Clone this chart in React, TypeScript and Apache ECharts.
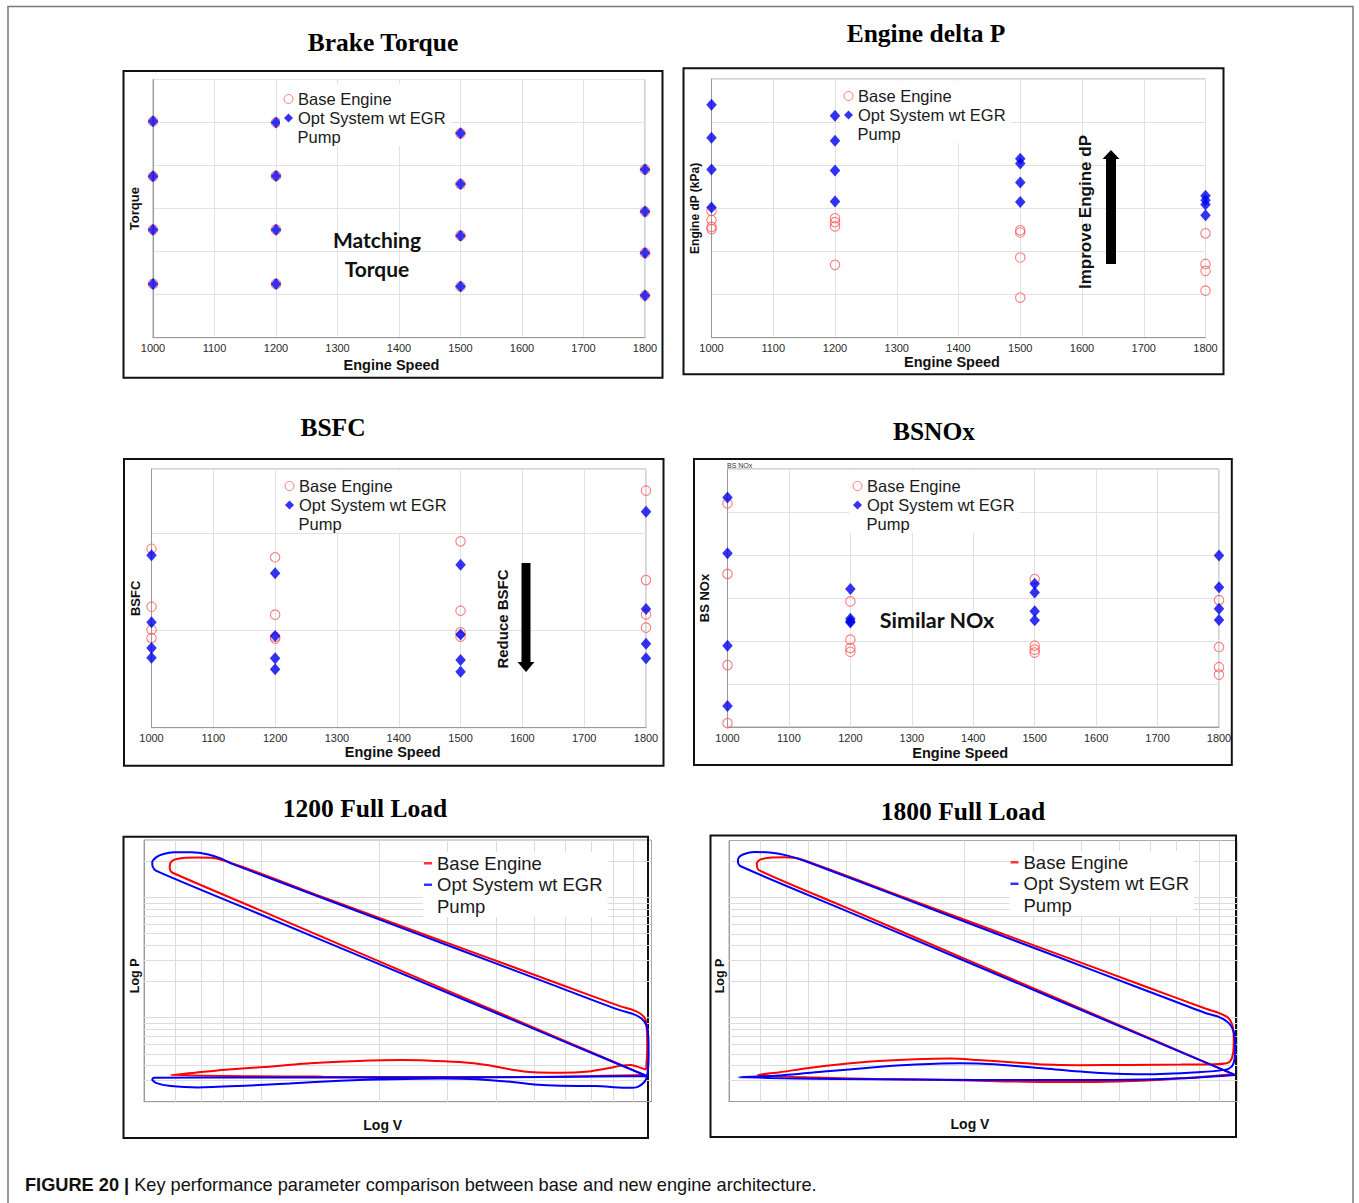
import React, { useEffect, useRef } from 'react';
import * as echarts from 'echarts';

// ---------------- DATA ----------------
const speeds = [1000, 1200, 1500, 1800];

// values per speed (4 operating points each), in plot grid units
const torqueBase = [[5.03, 3.75, 2.51, 1.25], [5.0, 3.76, 2.51, 1.25], [4.75, 3.57, 2.37, 1.19], [3.91, 2.93, 1.97, 0.98]];
const torqueOpt = [[5.03, 3.75, 2.51, 1.25], [5.0, 3.76, 2.51, 1.25], [4.75, 3.57, 2.37, 1.19], [3.91, 2.93, 1.97, 0.98]];

const dpBase = [[2.94, 2.73, 2.57, 2.52], [2.77, 2.68, 2.58, 1.69], [2.49, 2.44, 1.86, 0.93], [2.42, 1.71, 1.55, 1.09]];
const dpOpt = [[5.4, 4.64, 3.9, 3.02], [5.15, 4.57, 3.88, 3.16], [4.15, 4.04, 3.6, 3.15], [3.29, 3.19, 3.09, 2.84]];

const bsfcBase = [[1.845, 1.247, 1.01, 0.925], [1.757, 1.165, 0.935, 0.918], [1.921, 1.206, 0.983, 0.938], [2.443, 1.522, 1.168, 1.031]];
const bsfcOpt = [[1.777, 1.087, 0.822, 0.722], [1.592, 0.945, 0.715, 0.603], [1.68, 0.962, 0.698, 0.577], [2.227, 1.223, 0.866, 0.715]];

const noxBase = [[5.2, 3.56, 1.44, 0.09], [2.92, 2.03, 1.84, 1.75], [3.44, 1.89, 1.8, 1.73], [2.95, 1.86, 1.39, 1.22]];
const noxOpt = [[5.34, 4.04, 1.89, 0.49], [3.21, 2.52, 2.46, 2.43], [3.33, 3.13, 2.69, 2.48], [3.99, 3.25, 2.75, 2.49]];

// log-log PV loops: [V, P]
const pv1200Base = [
  [9.6, 0.333], [5.87, 0.66], [1.99, 2.969], [0.967, 8.104], [0.589, 16.17],
  [0.582, 17.57], [0.584, 19.34], [0.598, 20.62], [0.629, 21.29], [0.688, 21.42], [0.776, 20.88],
  [1.444, 9.97], [3.22, 3.842], [5.87, 1.878], [8.26, 1.252],
  [8.95, 1.159], [9.41, 1.067], [9.66, 0.957], [9.73, 0.79], [9.75, 0.574], [9.71, 0.417], [9.66, 0.371],
  [9.31, 0.386], [8.86, 0.404], [8.43, 0.401], [7.78, 0.381], [6.9, 0.357], [5.87, 0.348], [5.0, 0.351], [4.35, 0.371],
  [3.78, 0.404], [3.22, 0.427], [2.64, 0.441], [2.29, 0.444], [1.765, 0.436], [1.333, 0.417], [1.007, 0.388],
  [0.792, 0.367], [0.675, 0.348], [0.586, 0.333],
  [1.444, 0.323], [4.81, 0.321], [9.6, 0.333],
];
const pv1200Opt = [
  [9.73, 0.327], [5.87, 0.648], [1.99, 2.813], [0.967, 7.485], [0.536, 16.69],
  [0.526, 18.14], [0.525, 19.59], [0.536, 21.42], [0.558, 22.84], [0.598, 23.73], [0.661, 23.73], [0.731, 22.69],
  [0.792, 20.88], [0.841, 18.97],
  [1.444, 9.79], [3.22, 3.671], [5.87, 1.759], [8.26, 1.159],
  [8.95, 1.074], [9.41, 0.988], [9.69, 0.869], [9.81, 0.695], [9.83, 0.473], [9.79, 0.367], [9.73, 0.323],
  [9.6, 0.293], [9.22, 0.266], [8.77, 0.261], [8.26, 0.263], [7.18, 0.27], [5.87, 0.271], [5.0, 0.278], [4.35, 0.293],
  [3.56, 0.308], [2.91, 0.312], [2.16, 0.308], [1.596, 0.299], [1.18, 0.284], [0.875, 0.27], [0.688, 0.263],
  [0.586, 0.27], [0.536, 0.287], [0.525, 0.306], [0.53, 0.316],
  [0.967, 0.318], [3.22, 0.318], [9.73, 0.327],
];
const pv1800Base = [
  [9.79, 0.337], [5.87, 0.69], [1.99, 3.14], [0.967, 8.628], [0.596, 17.02],
  [0.589, 19.34], [0.601, 20.75], [0.635, 21.56], [0.695, 21.7], [0.761, 21.02],
  [1.444, 9.723], [3.22, 3.711], [5.87, 1.803], [8.26, 1.197],
  [8.95, 1.1], [9.46, 1.007], [9.73, 0.869], [9.81, 0.652], [9.77, 0.505], [9.64, 0.439], [9.41, 0.417],
  [8.77, 0.409], [7.18, 0.406], [5.31, 0.404], [3.93, 0.401], [3.22, 0.406], [2.64, 0.425], [2.16, 0.444],
  [1.837, 0.456], [1.503, 0.45], [1.18, 0.433], [0.967, 0.409], [0.792, 0.379], [0.675, 0.351], [0.592, 0.333],
  [0.792, 0.318], [1.18, 0.308], [1.95, 0.301], [3.22, 0.291], [4.35, 0.291], [5.87, 0.299], [7.94, 0.318], [9.79, 0.337],
];
const pv1800Opt = [
  [9.89, 0.333], [5.87, 0.681], [1.99, 3.012], [0.967, 8.115], [0.534, 18.38],
  [0.527, 19.97], [0.53, 21.7], [0.547, 23.13], [0.58, 24.03], [0.635, 23.88], [0.702, 22.55], [0.792, 19.97],
  [1.444, 9.496], [3.22, 3.528], [5.87, 1.678], [8.26, 1.1],
  [8.95, 1.02], [9.5, 0.909], [9.81, 0.765], [9.89, 0.574], [9.85, 0.444], [9.69, 0.391],
  [9.31, 0.367], [7.94, 0.351], [5.87, 0.337], [4.35, 0.348], [3.22, 0.376], [2.38, 0.409], [1.95, 0.417],
  [1.503, 0.406], [1.18, 0.386], [0.875, 0.355], [0.648, 0.327], [0.53, 0.318],
  [0.967, 0.308], [2.16, 0.3025], [4.81, 0.3025], [7.18, 0.312], [9.89, 0.333],
];

// log grid lines
const logVGrid = [0.6, 0.7, 0.8, 0.9, 1, 2, 3, 4, 5, 6, 7, 8, 9];
const logPGrid = [0.3, 0.4, 0.5, 0.6, 0.7, 0.8, 0.9, 1, 2, 3, 4, 5, 6, 7, 8, 9, 10, 20];

const BASE = 'Base Engine';
const OPT = 'Opt System wt EGR';

// ---------------- LAYOUT / STYLE ----------------
const FONT = "'Liberation Sans', Arial, Helvetica, sans-serif";
const SERIF = "'Liberation Serif', 'Times New Roman', serif";
const ANNO = "Lato, 'Open Sans', sans-serif";

const grids = [
  { left: 153, top: 79.5, width: 492, height: 258.2 },
  { left: 711.5, top: 79, width: 494, height: 258.7 },
  { left: 151.5, top: 469, width: 494.5, height: 258.7 },
  { left: 727.5, top: 469, width: 491.5, height: 258 },
  { left: 144, top: 840, width: 507.5, height: 261.7 },
  { left: 729, top: 840.5, width: 508, height: 261 },
];

const scatterPanels = [
  { base: torqueBase, opt: torqueOpt, yMax: 6, yName: 'Torque', yNameSize: 13, yNameGap: 12, xNameGap: 19.4, xNamePad: 15, legend: [280, 84] },
  { base: dpBase, opt: dpOpt, yMax: 6, yName: 'Engine dP (kPa)', yNameSize: 12, yNameGap: 11, xNameGap: 16, xNamePad: 13, legend: [840, 81] },
  { base: bsfcBase, opt: bsfcOpt, yMax: 2.667, yName: 'BSFC', yNameSize: 13, yNameGap: 9.3, xNameGap: 16.3, xNamePad: 12, legend: [281, 471] },
  { base: noxBase, opt: noxOpt, yMax: 6, yName: 'BS NOx', yNameSize: 13, yNameGap: 17, xNameGap: 18.5, xNamePad: 26, legend: [849, 471] },
];

const pvPanels = [
  { base: pv1200Base, opt: pv1200Opt, xNameGap: 16.3, xNamePad: 30, legend: [423, 852] },
  { base: pv1800Base, opt: pv1800Opt, xNameGap: 15.5, xNamePad: 26, legend: [1009.5, 851] },
];

const titles: [string, number, number][] = [
  ['Brake Torque', 383, 42.5],
  ['Engine delta P', 926, 33],
  ['BSFC', 333, 427],
  ['BSNOx', 934, 431],
  ['1200 Full Load', 365, 808],
  ['1800 Full Load', 963, 811],
];

const frames = [
  [123.5, 71, 539, 306.7],
  [683.5, 68.3, 540, 306],
  [124, 459, 539.5, 306.7],
  [694, 459, 537.8, 306],
  [123.5, 836.7, 524.5, 301.3],
  [710.5, 835.5, 525.5, 301.5],
];

function pairs(xs: number[], vals: number[][]) {
  const out: number[][] = [];
  xs.forEach((x, i) => vals[i].forEach((v) => out.push([x, v])));
  return out;
}

function txt(text: string, x: number, y: number, font: string, extra: any = {}, rotation = 0) {
  const align = extra.align || 'center';
  return {
    type: 'text',
    x,
    y,
    rotation,
    z: 10,
    silent: true,
    style: {
      text,
      x: 0,
      y: 0,
      font,
      fill: extra.fill || '#000',
      textAlign: align,
      align,
      textVerticalAlign: 'middle',
      verticalAlign: 'middle',
      lineHeight: extra.lineHeight,
      rich: extra.rich,
    },
  };
}

function buildOption() {
  const xAxis: any[] = [];
  const yAxis: any[] = [];
  const series: any[] = [];
  const legend: any[] = [];
  const graphic: any[] = [];

  const gridLine = { show: true, lineStyle: { color: '#e2e2e2', width: 1, type: 'solid' } };
  const axisLine = { show: true, lineStyle: { color: '#9a9a9a', width: 1 } };

  scatterPanels.forEach((p, i) => {
    xAxis.push({
      type: 'value', gridIndex: i, min: 1000, max: 1800, interval: 100,
      name: 'Engine Speed', nameLocation: 'middle', nameGap: p.xNameGap,
      nameTextStyle: { fontFamily: FONT, fontWeight: 'bold', fontSize: 14.5, color: '#111', padding: [0, p.xNamePad, 0, 0] },
      axisLine, axisTick: { show: false },
      axisLabel: { show: true, margin: 5, fontFamily: FONT, fontSize: 11, color: '#2a2a2a', formatter: (v: number) => String(v) },
      splitLine: gridLine,
    });
    yAxis.push({
      type: 'value', gridIndex: i, min: 0, max: p.yMax, interval: 1,
      name: p.yName, nameLocation: 'middle', nameGap: p.yNameGap, nameRotate: 90,
      nameTextStyle: { fontFamily: FONT, fontWeight: 'bold', fontSize: p.yNameSize, color: '#111' },
      axisLine, axisTick: { show: false }, axisLabel: { show: false },
      splitLine: gridLine,
    });
    series.push({
      type: 'scatter', name: BASE, xAxisIndex: i, yAxisIndex: i, data: pairs(speeds, p.base),
      symbol: 'circle', symbolSize: 9.5, silent: true, z: 2,
      itemStyle: { color: 'rgba(255,255,255,0)', borderColor: '#ff5a5a', borderWidth: 1.1 },
    });
    series.push({
      type: 'scatter', name: OPT, xAxisIndex: i, yAxisIndex: i, data: pairs(speeds, p.opt),
      symbol: 'diamond', symbolSize: [10.5, 12], silent: true, z: 3,
      itemStyle: { color: '#0000ee' },
    });
    const [lx, ly] = p.legend;
    legend.push({
      orient: 'vertical', left: lx, top: ly, itemGap: 0, itemWidth: 9, itemHeight: 9, z: 6,
      padding: [5.5, 5, 18.5, 3.5], backgroundColor: '#ffffff', selectedMode: false,
      textStyle: { fontFamily: FONT, fontSize: 16.5, color: '#1a1a1a', lineHeight: 19 },
      data: [
        { name: BASE, icon: 'circle', itemStyle: { color: '#ffffff', borderColor: '#ff5a5a', borderWidth: 1 } },
        { name: OPT, icon: 'diamond', itemStyle: { color: '#0000ee', borderWidth: 0 } },
      ],
    });
    graphic.push(txt('Pump', lx + 17.5, ly + 53, `16.5px ${FONT}`, { align: 'left', fill: '#1a1a1a' }));
  });

  pvPanels.forEach((p, k) => {
    const gi = 4 + k;
    xAxis.push({
      type: 'log', logBase: 10, gridIndex: gi, min: 0.5, max: 10,
      name: 'Log V', nameLocation: 'middle', nameGap: p.xNameGap,
      nameTextStyle: { fontFamily: FONT, fontWeight: 'bold', fontSize: 14, color: '#111', padding: [0, p.xNamePad, 0, 0] },
      axisLine, axisTick: { show: false }, axisLabel: { show: false }, splitLine: { show: false },
    });
    yAxis.push({
      type: 'log', logBase: 10, gridIndex: gi, min: 0.2, max: 30,
      name: 'Log P', nameLocation: 'middle', nameGap: 3, nameRotate: 90,
      nameTextStyle: { fontFamily: FONT, fontWeight: 'bold', fontSize: 12.5, color: '#111', padding: [0, 10, 0, 0] },
      axisLine, axisTick: { show: false }, axisLabel: { show: false }, splitLine: { show: false },
    });
    series.push({
      type: 'line', name: 'grid' + gi, xAxisIndex: gi, yAxisIndex: gi, data: [], silent: true, z: 1,
      markLine: {
        silent: true, symbol: ['none', 'none'], animation: false, z: 1,
        label: { show: false }, emphasis: { disabled: true },
        lineStyle: { color: '#dcdcdc', width: 1, type: 'solid' },
        data: [...logVGrid.map((v) => ({ xAxis: v })), ...logPGrid.map((v) => ({ yAxis: v }))],
      },
    });
    series.push({
      type: 'line', name: BASE, xAxisIndex: gi, yAxisIndex: gi, data: p.base, symbol: 'none', showSymbol: false,
      smooth: 0.25, silent: true, z: 3, lineStyle: { color: '#ff0000', width: 2 }, itemStyle: { color: '#ff0000' },
    });
    series.push({
      type: 'line', name: OPT, xAxisIndex: gi, yAxisIndex: gi, data: p.opt, symbol: 'none', showSymbol: false,
      smooth: 0.25, silent: true, z: 4, lineStyle: { color: '#0000ff', width: 2 }, itemStyle: { color: '#0000ff' },
    });
    const [lx, ly] = p.legend;
    legend.push({
      orient: 'vertical', left: lx, top: ly, itemGap: 0, itemWidth: 8, itemHeight: 2.5, z: 6,
      padding: [0.5, 5, 21.5, 1], backgroundColor: '#ffffff', selectedMode: false,
      textStyle: { fontFamily: FONT, fontSize: 18.5, color: '#1a1a1a', lineHeight: 21.5 },
      data: [
        { name: BASE, icon: 'rect', itemStyle: { color: '#ff0000', borderWidth: 0 } },
        { name: OPT, icon: 'rect', itemStyle: { color: '#0000ff', borderWidth: 0 } },
      ],
    });
    graphic.push(txt('Pump', lx + 14, ly + 54.25, `18.5px ${FONT}`, { align: 'left', fill: '#1a1a1a' }));
  });

  // outer figure frame
  graphic.push({
    type: 'rect', silent: true, z: 0,
    shape: { x: 8, y: 6.5, width: 1345, height: 1300 },
    style: { fill: 'none', stroke: '#7a7a7a', lineWidth: 1.5 },
  });
  frames.forEach(([x, y, w, h]) => {
    graphic.push({
      type: 'rect', silent: true, z: 0,
      shape: { x, y, width: w, height: h },
      style: { fill: 'none', stroke: '#111', lineWidth: 2 },
    });
  });
  titles.forEach(([t, x, y]) => graphic.push(txt(t, x, y, `bold 25.5px ${SERIF}`)));

  // annotations
  graphic.push(txt('Matching\nTorque', 377, 254, `bold 21px ${ANNO}`, { lineHeight: 29, fill: '#111' }));
  graphic.push(txt('Similar NOx', 937, 620, `bold 21.5px ${ANNO}`, { fill: '#111' }));
  graphic.push(txt('Improve Engine dP', 1085, 212, `bold 17px ${FONT}`, { fill: '#111' }, Math.PI / 2));
  graphic.push(txt('Reduce BSFC', 502, 619, `bold 15px ${FONT}`, { fill: '#111' }, Math.PI / 2));
  graphic.push(txt('BS NOx', 727, 465, `7px ${FONT}`, { align: 'left', fill: '#333' }));
  graphic.push({
    type: 'polygon', silent: true, z: 10,
    shape: { points: [[1111, 150], [1119.5, 159], [1116, 159], [1116, 264], [1106, 264], [1106, 159], [1102.5, 159]] },
    style: { fill: '#000' },
  });
  graphic.push({
    type: 'polygon', silent: true, z: 10,
    shape: { points: [[521.5, 563], [530.5, 563], [530.5, 662], [534.5, 662], [526, 672], [517.5, 662], [521.5, 662]] },
    style: { fill: '#000' },
  });

  // caption
  graphic.push(
    txt('{b|FIGURE 20 |} Key performance parameter comparison between base and new engine architecture.', 25, 1185,
      `18.2px ${FONT}`, {
        align: 'left', fill: '#111',
        rich: { b: { fontWeight: 'bold', fontSize: 18.2, fontFamily: FONT, fill: '#111' } },
      })
  );

  return {
    animation: false,
    backgroundColor: '#ffffff',
    grid: grids.map((g) => ({
      ...g, show: true, borderColor: '#a8a8a8', borderWidth: 1, backgroundColor: 'transparent',
      containLabel: false, outerBoundsMode: 'none',
    })),
    xAxis,
    yAxis,
    legend,
    series,
    graphic,
  };
}

export default function App() {
  const ref = useRef<HTMLDivElement>(null);
  useEffect(() => {
    if (!ref.current) return;
    const chart = echarts.init(ref.current, null, { renderer: 'svg' });
    chart.setOption(buildOption() as any);
    return () => chart.dispose();
  }, []);
  return (
    <div
      ref={ref}
      style={{ position: 'absolute', left: 0, top: 0, width: 1359, height: 1203, background: '#fff' }}
    />
  );
}
